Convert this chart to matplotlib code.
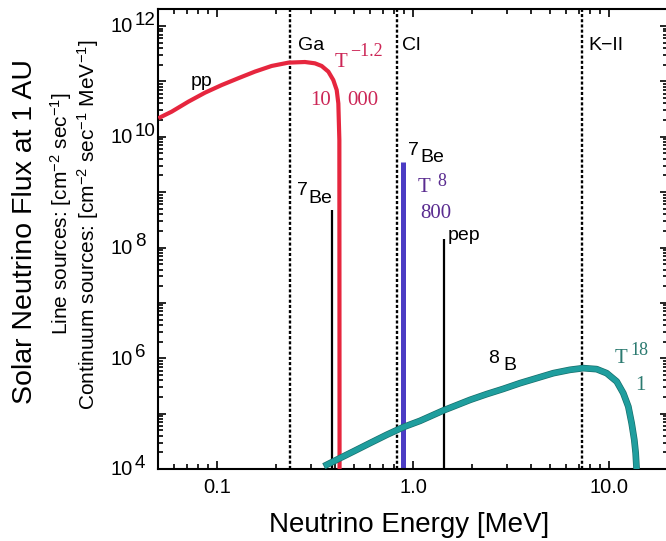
import matplotlib
matplotlib.use("Agg")
import matplotlib.pyplot as plt
from matplotlib.ticker import LogLocator, NullFormatter

plt.rcParams["font.family"] = ["Liberation Sans", "DejaVu Sans"]
plt.rcParams["mathtext.fontset"] = "custom"
plt.rcParams["mathtext.rm"] = "Liberation Sans"
plt.rcParams["mathtext.it"] = "Liberation Sans:italic"

# pp continuum (MeV, flux per MeV)
pp_energy = [0.0502, 0.0587, 0.0714, 0.0868, 0.1057, 0.1284, 0.156, 0.190,
             0.231, 0.281, 0.316, 0.342, 0.370, 0.392, 0.408, 0.416, 0.421,
             0.422]
pp_flux = [2.16e10, 2.84e10, 4.3e10, 6.25e10, 8.6e10, 1.14e11, 1.5e11, 1.9e11,
           2.18e11, 2.24e11, 2.12e11, 1.9e11, 1.5e11, 1.06e11, 7.0e10, 4.0e10,
           8.7e9, 9.0e3]

# 8B continuum
b8_energy = [0.363, 0.424, 0.496, 0.604, 0.734, 0.892, 1.086, 1.428, 1.954,
             2.377, 2.89, 3.515, 4.276, 5.2, 6.32, 7.39, 8.65, 9.73, 10.95,
             11.83, 12.55, 13.05, 13.46, 13.68, 13.85]
b8_flux = [1.19e4, 1.57e4, 2.07e4, 2.94e4, 4.14e4, 5.7e4, 7.4e4, 1.14e5,
           1.77e5, 2.25e5, 2.8e5, 3.55e5, 4.37e5, 5.38e5, 6.18e5, 6.63e5,
           6.36e5, 5.38e5, 3.8e5, 2.34e5, 1.34e5, 6.7e4, 3.37e4, 1.94e4, 9.0e3]

# monoenergetic lines: 7Be (0.38), 7Be (0.86), pep
line_energy = [0.384, 0.89, 1.44]
line_flux = [4.8e8, 3.5e9, 1.4e8]

# detector thresholds
thresholds = [0.236, 0.83, 7.3]
threshold_names = ["Ga", "Cl", "K\u2212II"]

x_ticks = [0.1, 1.0, 10.0]
x_tick_labels = ["0.1", "1.0", "10.0"]
y_ticks = [1e4, 1e5, 1e6, 1e7, 1e8, 1e9, 1e10, 1e11, 1e12]
y_label_exps = [4, 6, 8, 10, 12]

RED = "#e6263e"
CRIMSON = "#cc2656"
BLUE = "#4b3cc4"
PURPLE = "#5a2c90"
TEAL = "#1f9e9e"
TEAL_EDGE = "#176f6c"
TEAL_TEXT = "#2b7a70"

fig = plt.figure(figsize=(6.66, 5.41), dpi=100)
W, H = 666, 541
ax = fig.add_axes([158 / W, 1 - 469 / H, (668 - 158) / W, (469 - 9) / H])
ax.set_xscale("log")
ax.set_yscale("log")
ax.set_xlim(0.05, 20)
ax.set_ylim(1e4, 2.03e12)

for e in thresholds:
    ax.axvline(e, color="k", lw=1.7, dashes=(1.3, 0.9), zorder=1)

ax.plot(pp_energy, pp_flux, color=RED, lw=3.0, solid_capstyle="butt",
        solid_joinstyle="round", zorder=3)
ax.vlines(line_energy[0], 1e4, line_flux[0], color="k", lw=1.6, zorder=2)
ax.vlines(line_energy[1], 1e4, line_flux[1], color=BLUE, lw=3.6, zorder=2)
ax.vlines(line_energy[2], 1e4, line_flux[2], color="k", lw=1.6, zorder=2)
ax.plot(b8_energy, b8_flux, color=TEAL_EDGE, lw=4.8, zorder=3,
        solid_joinstyle="round")
ax.plot(b8_energy, b8_flux, color=TEAL, lw=3.8, zorder=3,
        solid_joinstyle="round")

for spine in ax.spines.values():
    spine.set_linewidth(1.5)

ax.set_xticks(x_ticks, labels=x_tick_labels)
ax.xaxis.set_minor_locator(LogLocator(base=10, subs=range(2, 10)))
ax.xaxis.set_minor_formatter(NullFormatter())
ax.set_yticks(y_ticks, labels=[""] * len(y_ticks))
ax.yaxis.set_minor_locator(LogLocator(base=10, subs=range(2, 10), numticks=20))
ax.yaxis.set_minor_formatter(NullFormatter())
ax.tick_params(which="both", direction="in", top=True, right=True, width=1.2)
ax.tick_params(which="major", length=6)
ax.tick_params(which="minor", length=3.5)
ax.tick_params(axis="x", which="major", labelsize=14.5, pad=6.5)

# y tick labels: base and full-size exponent
ytrans = ax.get_yaxis_transform()
for p in y_label_exps:
    ax.annotate("10", xy=(0, 10.0 ** p), xycoords=ytrans, xytext=(-18, -0.7),
                textcoords="offset points", ha="right", va="center",
                fontsize=14.5, annotation_clip=False)
    ax.annotate(str(p), xy=(0, 10.0 ** p), xycoords=ytrans, xytext=(-16.6, 4.0),
                textcoords="offset points", ha="left", va="center",
                fontsize=13.5, annotation_clip=False)

lab = dict(fontsize=14, ha="left", va="baseline")
ax.text(0.0737, 8.3e10, "pp", **lab)
for e, name in zip([0.259, 0.879, 7.81], threshold_names):
    ax.text(e, 3.7e11, name, **lab)
ax.text(0.256, 8.9e8, "7", **lab)
ax.text(0.291, 6.4e8, "Be", **lab)
ax.text(0.943, 4.7e9, "7", **lab)
ax.text(1.086, 3.5e9, "Be", **lab)
ax.text(1.509, 1.37e8, "pep", **lab)
ax.text(2.414, 8.3e5, "8", **lab)
ax.text(2.879, 6.2e5, "B", **lab)

ser = dict(family="Liberation Serif", ha="left", va="baseline")
ax.text(0.40, 1.82e11, "T", color=CRIMSON, fontsize=15, **ser)
ax.text(0.477, 2.87e11, "\u22121.2", color=CRIMSON, fontsize=13, **ser)
ax.text(0.298, 3.75e10, "10", color=CRIMSON, fontsize=15, **ser)
ax.text(0.461, 3.75e10, "000", color=CRIMSON, fontsize=15, **ser)
ax.text(1.06, 1.0e9, "T", color=PURPLE, fontsize=15, **ser)
ax.text(1.326, 1.3e9, "8", color=PURPLE, fontsize=13, **ser)
ax.text(1.086, 3.4e8, "800", color=PURPLE, fontsize=15, **ser)
ax.text(10.7, 8.3e5, "T", color=TEAL_TEXT, fontsize=15, **ser)
ax.text(12.8, 1.15e6, "18", color=TEAL_TEXT, fontsize=13, **ser)
ax.text(13.6, 2.7e5, "1", color=TEAL_TEXT, fontsize=15, **ser)

fig.text(409 / W, 1 - 532 / H, "Neutrino Energy [MeV]", fontsize=20,
         ha="center", va="baseline")
fig.text(25 / W, 1 - 231 / H, "Solar Neutrino Flux at 1 AU", fontsize=20.5,
         rotation=90, ha="center", va="center")
fig.text(61 / W, 1 - 214 / H, r"Line sources: [cm$^{-2}$ sec$^{-1}$]",
         fontsize=15, rotation=90, ha="center", va="center")
fig.text(88 / W, 1 - 225 / H,
         r"Continuum sources: [cm$^{-2}$ sec$^{-1}$ MeV$^{-1}$]",
         fontsize=15, rotation=90, ha="center", va="center")

fig.savefig("out.png", dpi=100)
